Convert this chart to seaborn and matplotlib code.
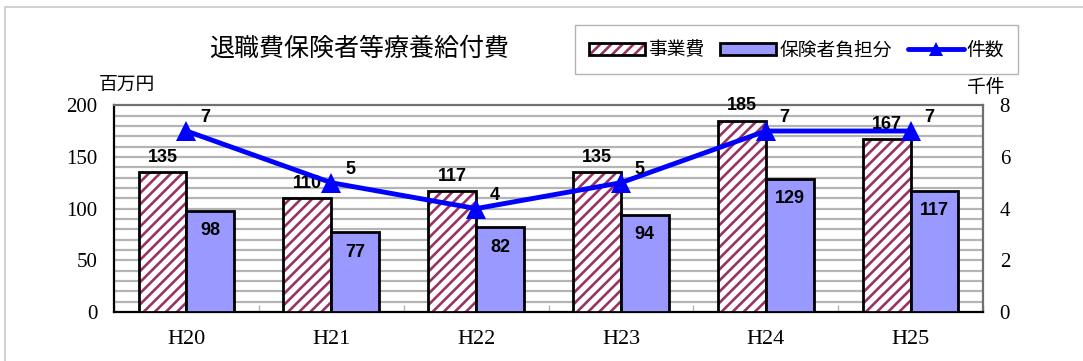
import matplotlib
matplotlib.use("Agg")
import matplotlib.pyplot as plt
import matplotlib.colors as mcolors
from matplotlib.patches import Patch, Rectangle
from matplotlib.lines import Line2D
import seaborn as sns
import pandas as pd
import numpy as np

years = ["H20", "H21", "H22", "H23", "H24", "H25"]
jigyouhi = [135, 110, 117, 135, 185, 167]
hokensha = [98, 77, 82, 94, 129, 117]
kensu = [7, 5, 4, 5, 7, 7]
series_names = ["事業費", "保険者負担分", "件数"]

sns.set_theme(style="white", rc={"text.color": "black", "xtick.color": "black",
                                  "ytick.color": "black", "axes.labelcolor": "black"})
plt.rcParams['font.family'] = ['Noto Sans CJK JP', 'DejaVu Sans']
plt.rcParams['hatch.linewidth'] = 1.9

CJK = ['Noto Sans CJK JP', 'DejaVu Sans']
SERIF = ['Liberation Serif', 'DejaVu Serif']
NUM = ['Liberation Sans', 'DejaVu Sans']

df = pd.DataFrame({
    "year": years * 2,
    "value": jigyouhi + hokensha,
    "series": [series_names[0]] * 6 + [series_names[1]] * 6,
})

fig = plt.figure(figsize=(10.83, 3.61), dpi=100)
ax = fig.add_axes([0.1053, 0.1357, 0.8024, 0.573])

sns.barplot(data=df, x="year", y="value", hue="series", ax=ax,
            palette=["white", "#9999FF"], width=0.66, gap=0,
            edgecolor="black", linewidth=2, legend=False, saturation=1)

hatch_rgba = mcolors.to_rgba("#993366")
for i, bar in enumerate(ax.patches):
    if i < 6:
        bar.set_hatch("///")
        bar._hatch_color = hatch_rgba
    bar.set_zorder(3)

ax.set_ylim(0, 200)
ax.set_yticks(np.arange(0, 201, 50))
ax.set_xlim(-0.5, 5.5)
ax.set_xlabel("")
ax.set_ylabel("")
for y in np.arange(10, 200, 10):
    ax.axhline(y, color="#b4b4b4", lw=1.6, zorder=1)
ax.set_xticks(np.arange(-0.5, 5.6, 1), minor=True)
ax.tick_params(axis="x", which="minor", direction="in", length=5, color="#b4b4b4", width=1, bottom=True)
ax.tick_params(axis="x", which="major", length=0, pad=13, labelsize=16, labelcolor="black")
ax.tick_params(axis="y", length=0, pad=12, labelsize=15, labelcolor="black")
for lab in ax.get_xticklabels() + ax.get_yticklabels():
    lab.set_family(SERIF)
for s in ["left", "bottom"]:
    ax.spines[s].set_color("black")
    ax.spines[s].set_linewidth(1.6)
for s in ["top", "right"]:
    ax.spines[s].set_color("#707070")
    ax.spines[s].set_linewidth(1.6)

# bar labels
w = 0.33
for i, v in enumerate(jigyouhi):
    ax.text(i - w / 2, v + 6, str(v), ha="center", va="bottom", color="black",
            family=NUM, fontweight="bold", fontsize=13, zorder=6)
for i, v in enumerate(hokensha):
    ax.text(i + w / 2, v - 11, str(v), ha="center", va="top", color="black",
            family=NUM, fontweight="bold", fontsize=13, zorder=6)

ax2 = ax.twinx()
ldf = pd.DataFrame({"year": years, "count": kensu})
sns.lineplot(data=ldf, x="year", y="count", ax=ax2, color="#0000FF", lw=3.5,
             marker="^", markersize=15, markeredgewidth=0, sort=False, zorder=5)
ax2.set_ylim(0, 8)
ax2.set_yticks(np.arange(0, 9, 2))
ax2.set_xlim(-0.5, 5.5)
ax2.set_ylabel("")
ax2.set_xlabel("")
ax2.tick_params(axis="y", length=0, pad=12, labelsize=15, labelcolor="black")
for lab in ax2.get_yticklabels():
    lab.set_family(SERIF)
for s in ax2.spines.values():
    s.set_visible(False)
for i, v in enumerate(kensu):
    ax2.text(i + 0.13, v + 0.52, str(v), ha="center", va="center", color="black",
             family=NUM, fontweight="bold", fontsize=13, zorder=6)

# titles and unit labels
fig.text(0.332, 0.865, "退職費保険者等療養給付費", ha="center", va="center",
         family=CJK, fontsize=18, color="black")
fig.text(0.117, 0.765, "百万円", ha="center", va="center", family=CJK,
         fontsize=13.5, color="black")
fig.text(0.910, 0.758, "千件", ha="center", va="center", family=CJK,
         fontsize=13.5, color="black")

handles = [
    Patch(facecolor="white", edgecolor="black", hatch="///", linewidth=2),
    Patch(facecolor="#9999FF", edgecolor="black", linewidth=2),
    Line2D([0], [0], color="#0000FF", lw=3.5, marker="^", markersize=10, markeredgewidth=0),
]
leg = fig.legend(handles, series_names, loc="center", bbox_to_anchor=(0.7355, 0.862),
                 ncol=3, frameon=True, fancybox=False, edgecolor="#a0a0a0",
                 prop={"family": CJK, "size": 13.5}, handlelength=3.0, handleheight=0.6,
                 handletextpad=0.15, columnspacing=0.85, borderpad=0.75)
leg.get_frame().set_linewidth(1.0)
for t in leg.get_texts():
    t.set_color("black")
hp = leg.legend_handles[0]
hp._hatch_color = hatch_rgba

fig.patches.append(Rectangle((5 / 1083, -0.1), 1.2, 1.1 - 7 / 361,
                             transform=fig.transFigure, fill=False,
                             edgecolor="#c8c8c8", lw=1.2))

fig.savefig("out.png", dpi=100)
